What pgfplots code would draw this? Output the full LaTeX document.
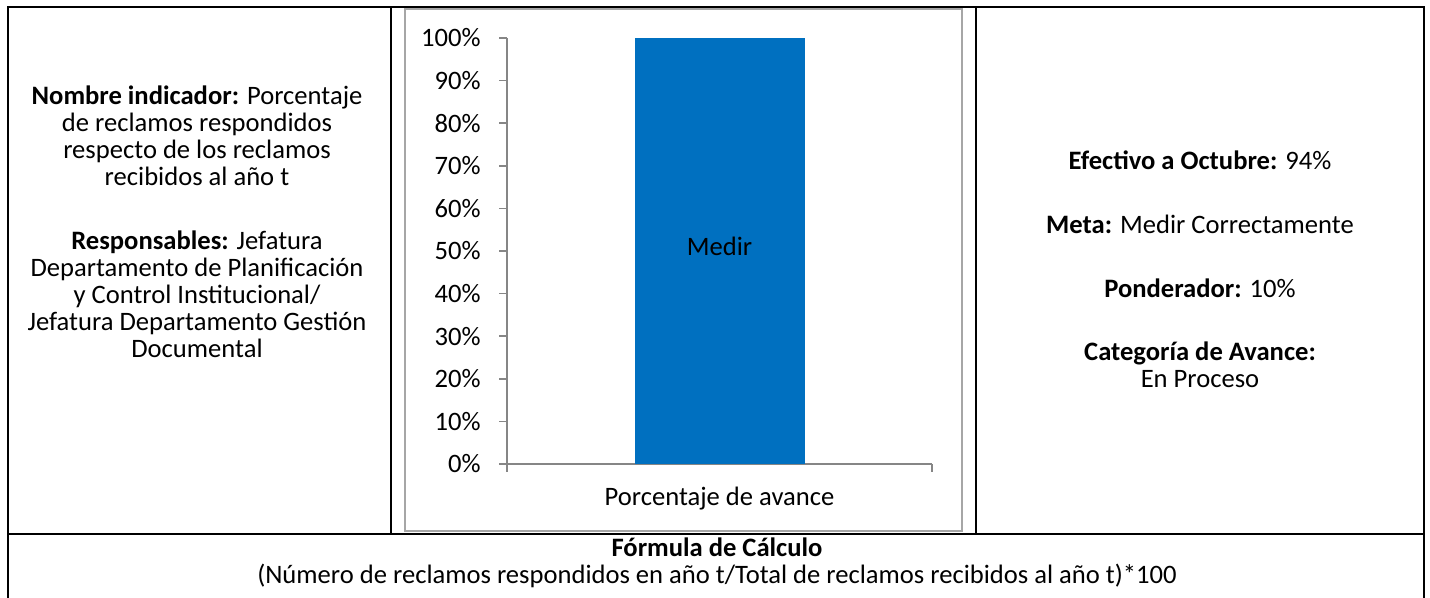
\documentclass[border=0pt]{standalone}
\usepackage{fontspec}
\setmainfont{Carlito}
\usepackage{pgfplots}
\pgfplotsset{compat=1.18}
\definecolor{barblue}{RGB}{0,112,192}
\definecolor{axgray}{RGB}{134,134,134}
\definecolor{framegray}{RGB}{166,166,166}
\begin{document}
\begin{tikzpicture}[x=0.5pt,y=0.5pt,font=\fontsize{13.3pt}{13.5pt}\selectfont]
\path[use as bounding box] (0,0) rectangle (1430,598);
% table lines
\draw[line width=0.9pt] (8,0) -- (8,591) -- (1424,591) -- (1424,0);
\draw[line width=0.9pt] (8,64) -- (1424,64);
\draw[line width=0.9pt] (391,591) -- (391,64);
\draw[line width=0.9pt] (976,591) -- (976,64);
% chart frame
\draw[framegray,line width=0.8pt] (405,589) rectangle (962,67);
\begin{axis}[
  at={(253.5pt,67pt)}, anchor=south west,
  scale only axis, width=212.5pt, height=213pt,
  xmin=-0.5, xmax=0.5, ymin=0, ymax=100,
  axis lines*=left,
  axis line style={axgray,line width=0.8pt},
  tick style={axgray,line width=0.8pt},
  tick align=outside, major tick length=4pt,
  ytick={0,10,...,100},
  yticklabel={\pgfmathprintnumber[assume math mode=true]{\tick}\%},
  yticklabel style={inner sep=0pt, xshift=-9pt, font=\fontsize{13.3pt}{13.5pt}\selectfont},
  xtick={-0.5,0.5}, xticklabels={},
  xlabel={Porcentaje de avance},
  xlabel style={at={(axis description cs:0.5,0)}, anchor=center, yshift=-17.5pt, inner sep=0pt, font=\fontsize{13.3pt}{13.5pt}\selectfont},
]
\addplot[ybar, bar width=85pt, fill=barblue, draw=none] coordinates {(0,100)};
\node[font=\fontsize{13.3pt}{13.5pt}\selectfont] at (axis cs:0,51) {Medir};
\end{axis}
% left cell
\node[align=center,inner sep=0pt] at (197,462.5) {\textbf{Nombre indicador:} Porcentaje\\de reclamos respondidos\\respecto de los reclamos\\recibidos al año t};
\node[align=center,inner sep=0pt] at (197,304) {\textbf{Responsables:} Jefatura\\Departamento de Planificación\\y Control Institucional/\\Jefatura Departamento Gestión\\Documental};
% right cell
\node[inner sep=0pt] at (1200,438) {\textbf{Efectivo a Octubre:} 94\%};
\node[inner sep=0pt] at (1200,374) {\textbf{Meta:} Medir Correctamente};
\node[inner sep=0pt] at (1200,310) {\textbf{Ponderador:} 10\%};
\node[align=center,inner sep=0pt] at (1200,233) {\textbf{Categoría de Avance:}\\En Proceso};
% bottom row
\node[align=center,inner sep=0pt] at (717,35) {\textbf{Fórmula de Cálculo}\\(Número de reclamos respondidos en año t/Total de reclamos recibidos al año t)*100};
\end{tikzpicture}
\end{document}
